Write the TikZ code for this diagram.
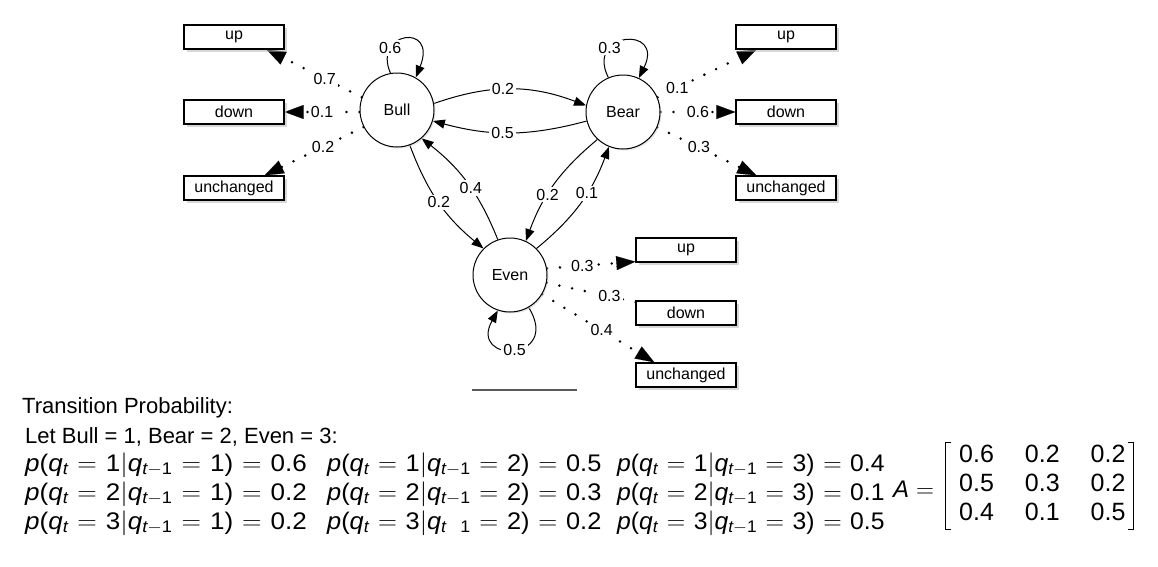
\documentclass[tikz,border=0pt]{standalone}
\usepackage{fontspec}
\setmainfont{Liberation Sans}
\usepackage{amsmath}
\usepackage{graphicx}
\usetikzlibrary{arrows.meta,shadows,backgrounds}

\newcommand\pcond[4][1.085]{\scalebox{#1}[1]{$\thickmuskip=6mu\mathit{p}\text{(}\mathit{q}_{\mathit{t}}=\text{#2}|\mathit{q}_{\mathit{t}-\text{1}}=\text{#3}\text{)}=\text{#4}$}}

\begin{document}
\begin{tikzpicture}[x=1pt,y=-1pt,
    state/.style={draw,circle,line width=1pt,fill=white,minimum size=74pt,inner sep=0pt,
        font=\fontsize{16}{18}\selectfont,
        drop shadow={shadow xshift=1.5pt,shadow yshift=-1.5pt,fill=gray!40}},
    obs/.style={draw,line width=1.3pt,fill=white,minimum width=100pt,minimum height=24pt,
        inner sep=0pt,font=\fontsize{16}{18}\selectfont,
        drop shadow={shadow xshift=3pt,shadow yshift=-3pt,fill=gray!60}},
    trans/.style={line width=1pt,-{Triangle[length=12pt,width=9pt]}},
    emit/.style={line width=2.8pt,line cap=round,dash pattern=on 0pt off 13pt,
        -{Triangle[length=19pt,width=14pt,line width=0.1pt]}},
    lbl/.style={fill=white,inner sep=2pt,font=\fontsize{16}{18}\selectfont},
    txt/.style={anchor=base west,inner sep=0pt,font=\fontsize{22}{26}\selectfont},
    eqtxt/.style={anchor=base west,inner sep=0pt,font=\fontsize{24}{28}\selectfont}]
    \useasboundingbox (0,0) rectangle (1158,566);
    % states
    \node[state] (Bull) at (397,110) {Bull};
    \node[state] (Bear) at (623,112) {Bear};
    \node[state] (Even) at (510,275) {Even};
    % observations
    \node[obs] (upL) at (234,37) {up};
    \node[obs] (downL) at (234,112) {down};
    \node[obs] (unchL) at (234,188) {unchanged};
    \node[obs] (upR) at (786,37) {up};
    \node[obs] (downR) at (786,112) {down};
    \node[obs] (unchR) at (786,188) {unchanged};
    \node[obs] (upE) at (686,250) {up};
    \node[obs] (downE) at (686,313) {down};
    \node[obs] (unchE) at (686,375) {unchanged};
    \begin{pgfonlayer}{background}
    % transitions
    \draw[trans] (Bull.100) .. controls (372,32) and (438,22) .. (Bull.60) node[lbl,pos=0.26]{0.6};
    \draw[trans] (Bear.113) .. controls (585,32) and (665,25) .. (Bear.65) node[lbl,pos=0.3]{0.3};
    \draw[trans] (Even.300) .. controls (562,362) and (468,364) .. (Even.251) node[lbl,pos=0.5]{0.5};
    \draw[trans] (Bull.10) to[bend left=20] node[lbl,pos=0.45]{0.2} (Bear.170);
    \draw[trans] (Bear.194) to[bend left=15] node[lbl,pos=0.55]{0.5} (Bull.343);
    \draw[trans] (Bull.290) to[bend right=15] node[lbl]{0.2} (Even.135);
    \draw[trans] (Even.109) to[bend right=15] node[lbl,pos=0.45]{0.4} (Bull.311);
    \draw[trans] (Bear.227) to[bend right=15] node[lbl,pos=0.6]{0.2} (Even.65);
    \draw[trans] (Even.45) to[bend right=15] node[lbl,pos=0.6]{0.1} (Bear.248);
    % emissions
    \draw[emit] (Bull.160) -- node[lbl,pos=0.39]{0.7} ([xshift=-18pt]upL.south east);
    \draw[emit] (Bull.183) -- node[lbl]{0.1} (downL.east);
    \draw[emit] (Bull.207) -- node[lbl,pos=0.41]{0.2} ([xshift=-20pt]unchL.north east);
    \draw[emit] (Bear.23) -- node[lbl,pos=0.2]{0.1} ([xshift=21pt]upR.south west);
    \draw[emit] (Bear.0) -- node[lbl]{0.6} (downR.west);
    \draw[emit] (Bear.336) -- node[lbl,pos=0.42]{0.3} ([xshift=21pt]unchR.north west);
    \draw[emit] (Even.10) -- node[lbl,pos=0.4]{0.3} ([yshift=1pt]upE.south west);
    \draw[emit] (Even.348) -- node[lbl,pos=0.45]{0.3} (downE.center);
    \draw[emit] (Even.329) -- node[lbl,pos=0.53]{0.4} ([xshift=19pt]unchE.north west);
    \end{pgfonlayer}
    \draw[line width=2pt,black!65] (472,390) -- (577,390);
    % transition probabilities
    \node[txt] (title) at (22,413) {Transition Probability:};
    \node[txt] (let) at (25,443) {Let Bull = 1, Bear = 2, Even = 3:};
    \node[eqtxt] (p11) at (25,471) {\pcond{1}{1}{0.6}};
    \node[eqtxt] (p21) at (25,500) {\pcond{2}{1}{0.2}};
    \node[eqtxt] (p31) at (25,529) {\pcond{3}{1}{0.2}};
    \node[eqtxt] (p12) at (327,471) {\pcond[1.056]{1}{2}{0.5}};
    \node[eqtxt] (p22) at (327,500) {\pcond[1.056]{2}{2}{0.3}};
    \node[eqtxt] (p32) at (327,529) {\scalebox{1.056}[1]{$\thickmuskip=6mu\mathit{p}\text{(}\mathit{q}_{\mathit{t}}=\text{3}|\mathit{q}_{\mathit{t}\hphantom{-}\text{1}}=\text{2}\text{)}=\text{0.2}$}};
    \node[eqtxt] (p13) at (617,471) {\pcond[1.03]{1}{3}{0.4}};
    \node[eqtxt] (p23) at (617,500) {\pcond[1.03]{2}{3}{0.1}};
    \node[eqtxt] (p33) at (617,529) {\pcond[1.03]{3}{3}{0.5}};
    % matrix A
    \node[eqtxt] (aeq) at (893,497) {$\mathit{A}=$};
    \node[anchor=west,inner sep=0pt,font=\fontsize{25}{29}\selectfont] (amat) at (945,486)
        {\begin{tabular}{@{\hspace{14pt}}l@{\hspace{31pt}}l@{\hspace{31pt}}l@{\hspace{8pt}}}
        0.6&0.2&0.2\\0.5&0.3&0.2\\0.4&0.1&0.5\end{tabular}};
    \draw[line width=1pt] ([xshift=6pt]amat.north west) -- (amat.north west) -- (amat.south west) -- ++(6,0);
    \draw[line width=1pt] ([xshift=-6pt]amat.north east) -- (amat.north east) -- (amat.south east) -- ++(-6,0);
\end{tikzpicture}
\end{document}
